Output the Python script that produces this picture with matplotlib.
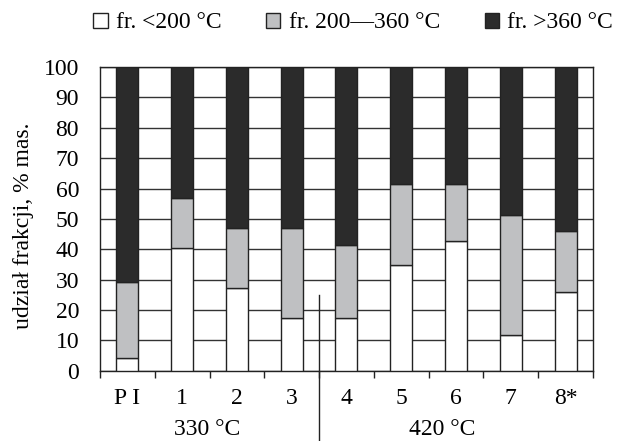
import matplotlib.pyplot as plt
from matplotlib.patches import Patch

plt.rcParams['font.family'] = ['Liberation Serif', 'DejaVu Serif']

# Udział frakcji w produktach (% mas.)
proby = ['P I', '1', '2', '3', '4', '5', '6', '7', '8*']
fr_lekka = [4.3, 40.6, 27.2, 17.3, 17.3, 35.0, 42.8, 11.7, 26.1]
fr_srednia = [25.0, 16.3, 19.8, 29.7, 24.1, 26.4, 18.6, 39.7, 19.8]
fr_ciezka = [100 - a - b for a, b in zip(fr_lekka, fr_srednia)]
etykiety = ['fr. <200 °C', 'fr. 200—360 °C', 'fr. >360 °C']
kolory = ['white', '#bfc0c2', '#2b2b2b']

fs = 17

fig = plt.figure(figsize=(6.17, 4.41), dpi=100)
ax = fig.add_axes([0.162, 0.159, 0.799, 0.689])

x = list(range(len(proby)))
dol = [0] * len(proby)
for wart, kol in zip([fr_lekka, fr_srednia, fr_ciezka], kolory):
    ax.bar(x, wart, width=0.4, bottom=dol, color=kol, edgecolor='#222222',
           linewidth=1.0, zorder=3)
    dol = [d + w for d, w in zip(dol, wart)]

ax.set_ylim(0, 100)
ax.set_xlim(-0.5, len(proby) - 0.5)
ax.set_yticks(range(0, 101, 10))
ax.yaxis.grid(True, color='#333333', linewidth=1.0, zorder=0)
ax.tick_params(axis='y', length=0, labelsize=fs, pad=15)

# podziałki między kategoriami, etykiety pośrodku
ax.set_xticks([i - 0.5 for i in range(len(proby) + 1)])
ax.set_xticklabels([])
ax.set_xticks(x, minor=True)
ax.set_xticklabels(proby, minor=True)
ax.tick_params(axis='x', which='major', length=5, width=1, color='#222222')
ax.tick_params(axis='x', which='minor', length=0, labelsize=fs, pad=12)

for s in ax.spines.values():
    s.set_color('#222222')
    s.set_linewidth(1.0)

ax.set_ylabel('udział frakcji, % mas.', fontsize=fs)
ax.yaxis.set_label_coords(-0.134, 0.477)

# linia oddzielająca serie 330 °C i 420 °C
ax.plot([3.5, 3.5], [25, -30], color='#222222', linewidth=1.0,
        clip_on=False, zorder=4)
ax.text(1.45, -21.0, '330 °C', ha='center', va='baseline', fontsize=fs)
ax.text(5.75, -21.0, '420 °C', ha='center', va='baseline', fontsize=fs)

uchwyty = [Patch(facecolor=k, edgecolor='#222222', linewidth=1.0) for k in kolory]
fig.legend(uchwyty, etykiety, loc='upper right', bbox_to_anchor=(1.028, 1.02),
           ncol=3, frameon=False, fontsize=fs, handlelength=0.6,
           handleheight=0.6, handletextpad=0.35, columnspacing=1.9)

fig.savefig('out.png', dpi=100)
